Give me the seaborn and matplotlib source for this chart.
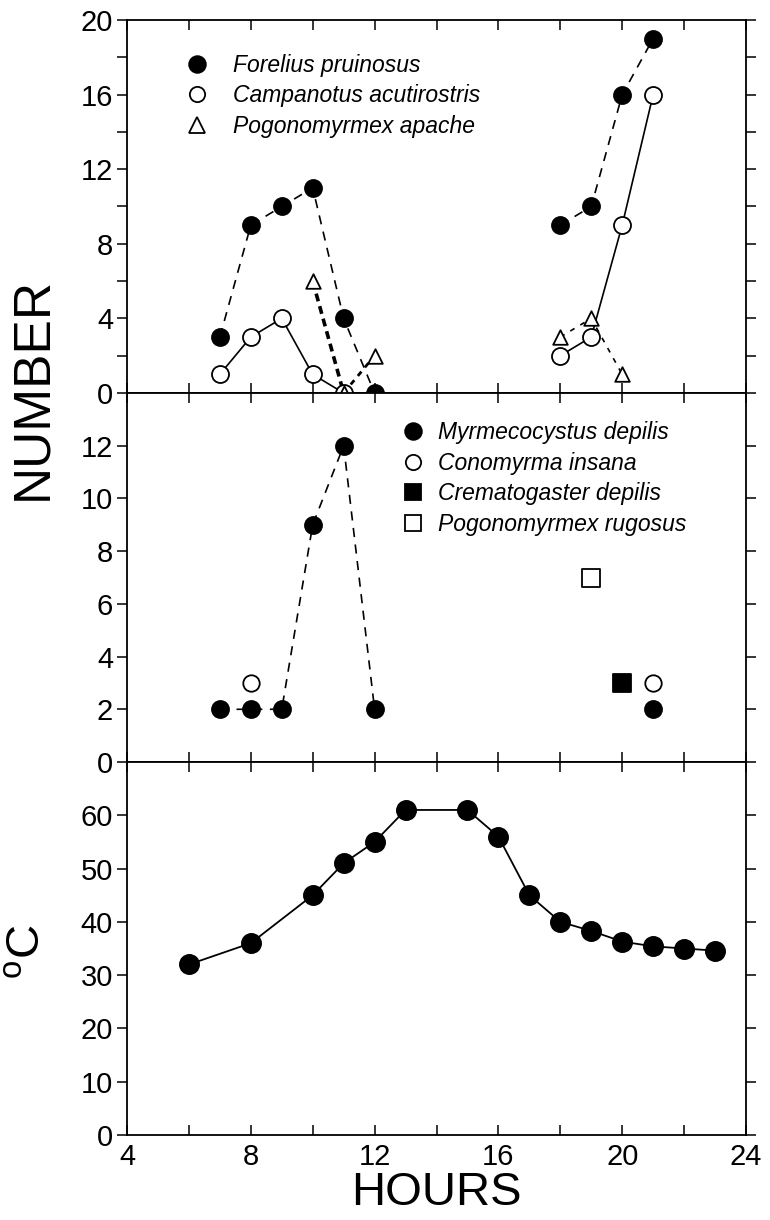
import matplotlib
matplotlib.use("Agg")
import matplotlib.pyplot as plt
import numpy as np
import pandas as pd
import seaborn as sns
from matplotlib.lines import Line2D
from matplotlib.ticker import MultipleLocator, FixedLocator

# ---------------- data ----------------
# Top panel (NUMBER)
forelius_am_h = [7, 8, 9, 10, 11, 12]
forelius_am = [3, 9, 10, 11, 4, 0]
forelius_pm_h = [18, 19, 20, 21]
forelius_pm = [9, 10, 16, 19]

campanotus_am_h = [7, 8, 9, 10, 11]
campanotus_am = [1, 3, 4, 1, 0]
campanotus_pm_h = [18, 19, 20, 21]
campanotus_pm = [2, 3, 9, 16]

apache_am_h = [10, 11, 12]
apache_am = [6, 0, 2]
apache_pm_h = [18, 19, 20]
apache_pm = [3, 4, 1]

# Middle panel (NUMBER)
myrm_am_h = [7, 8, 9, 10, 11, 12]
myrm_am = [2, 2, 2, 9, 12, 2]
myrm_pm_h = [21]
myrm_pm = [2]
conomyrma_h = [8, 21]
conomyrma = [3, 3]
cremato_h = [20]
cremato = [3]
rugosus_h = [19]
rugosus = [7]

# Bottom panel (temperature)
temp_h = [6, 8, 10, 11, 12, 13, 15, 16, 17, 18, 19, 20, 21, 22, 23]
temp_c = [32, 36, 45, 51, 55, 61, 61, 56, 45, 40, 38.3, 36.3, 35.4, 35, 34.6]

top_labels = ["Forelius pruinosus", "Campanotus acutirostris", "Pogonomyrmex apache"]
mid_labels = ["Myrmecocystus depilis", "Conomyrma insana", "Crematogaster depilis",
              "Pogonomyrmex rugosus"]
top_yticks = [0, 4, 8, 12, 16, 20]
mid_yticks = [0, 2, 4, 6, 8, 10, 12]
bot_yticks = [0, 10, 20, 30, 40, 50, 60]
x_ticks = [4, 8, 12, 16, 20, 24]

# ---------------- style ----------------
sns.set_theme(style="ticks", rc={
    "axes.edgecolor": "black", "xtick.color": "black", "ytick.color": "black",
    "text.color": "black", "axes.labelcolor": "black", "axes.linewidth": 1.3,
})
plt.rcParams['font.family'] = ['Liberation Sans', 'DejaVu Sans']
plt.rcParams['mathtext.fontset'] = 'custom'
plt.rcParams['mathtext.rm'] = 'Liberation Sans'

FW, FH = 770, 1220
fig = plt.figure(figsize=(FW / 100, FH / 100), dpi=100)
L, R = 127, 746


def rect(top_px, bot_px):
    return [L / FW, 1 - bot_px / FH, (R - L) / FW, (bot_px - top_px) / FH]


ax1 = fig.add_axes(rect(20, 393))
ax2 = fig.add_axes(rect(393, 762), sharex=ax1)
ax3 = fig.add_axes(rect(762, 1135), sharex=ax1)


def line(ax, x, y, lw=1.2, ls='-'):
    df = pd.DataFrame({"h": x, "v": y})
    sns.lineplot(data=df, x="h", y="v", ax=ax, estimator=None, sort=False,
                 color="black", linewidth=lw, linestyle=ls, zorder=2)


def pts(ax, x, y, marker='o', filled=True, s=150, lw=1.3):
    df = pd.DataFrame({"h": x, "v": y})
    sns.scatterplot(data=df, x="h", y="v", ax=ax, marker=marker, s=s,
                    color="black" if filled else "white", edgecolor="black",
                    linewidth=lw, zorder=3)


dash = (0, (5.5, 4.5))
# top panel
line(ax1, forelius_am_h, forelius_am, ls=dash)
line(ax1, forelius_pm_h, forelius_pm, ls=dash)
line(ax1, campanotus_am_h, campanotus_am)
line(ax1, campanotus_pm_h, campanotus_pm)
line(ax1, apache_am_h[:2], apache_am[:2], lw=2.6, ls=(0, (2.2, 1.4)))
line(ax1, apache_am_h[1:], apache_am[1:], lw=2.0, ls=(0, (2.0, 2.0)))
line(ax1, apache_pm_h, apache_pm, lw=1.2, ls=(0, (3, 4)))
pts(ax1, forelius_am_h, forelius_am)
pts(ax1, forelius_pm_h, forelius_pm)
pts(ax1, campanotus_am_h, campanotus_am, filled=False)
pts(ax1, campanotus_pm_h, campanotus_pm, filled=False)
pts(ax1, apache_am_h, apache_am, marker='^', filled=False, s=110)
pts(ax1, apache_pm_h, apache_pm, marker='^', filled=False, s=110)

# middle panel
line(ax2, myrm_am_h, myrm_am, ls=dash)
pts(ax2, myrm_am_h, myrm_am)
pts(ax2, myrm_pm_h, myrm_pm)
pts(ax2, conomyrma_h, conomyrma, filled=False, s=140)
pts(ax2, cremato_h, cremato, marker='s', s=150)
pts(ax2, rugosus_h, rugosus, marker='s', filled=False, s=150)

# bottom panel
line(ax3, temp_h, temp_c, lw=1.3)
pts(ax3, temp_h, temp_c, s=190)

# ---------------- axes ----------------
ax1.set_xlim(4, 24)
ax1.set_ylim(0, 20)
ax2.set_ylim(0, 14)
ax3.set_ylim(0, 70)
ax1.yaxis.set_major_locator(FixedLocator(top_yticks))
ax1.yaxis.set_minor_locator(MultipleLocator(2))
ax2.yaxis.set_major_locator(FixedLocator(mid_yticks))
ax3.yaxis.set_major_locator(FixedLocator(bot_yticks))
ax3.xaxis.set_major_locator(FixedLocator(x_ticks))
ax3.xaxis.set_minor_locator(MultipleLocator(2))

for ax in (ax1, ax2, ax3):
    for sp in ax.spines.values():
        sp.set_visible(True)
        sp.set_linewidth(1.3)
    ax.set_xlabel("")
    ax.set_ylabel("")
    ax.tick_params(axis='x', which='both', direction='in', top=True, bottom=True,
                   length=7, width=1.1, labelbottom=False, labelsize=21, pad=6)
    ax.tick_params(axis='y', which='both', direction='out', left=True, right=True,
                   length=7, width=1.1, labelsize=21, pad=3)
ax3.tick_params(axis='x', labelbottom=True)
ax3.set_xlabel("HOURS", fontsize=34, labelpad=0)

# legends
lkw = dict(mec='black', mew=1.3, ls='none')
h_top = [Line2D([], [], marker='o', mfc='black', ms=12, **lkw),
         Line2D([], [], marker='o', mfc='white', ms=11, **lkw),
         Line2D([], [], marker='^', mfc='white', ms=12, **lkw)]
ax1.legend(h_top, top_labels, loc='upper left', bbox_to_anchor=(185.5 / FW, 1 - 54 / FH),
           bbox_transform=fig.transFigure, frameon=False, borderpad=0, borderaxespad=0,
           handlelength=1.0, handletextpad=1.07, labelspacing=0.32,
           prop={'style': 'italic', 'size': 16.5})
h_mid = [Line2D([], [], marker='o', mfc='black', ms=12, **lkw),
         Line2D([], [], marker='o', mfc='white', ms=11, **lkw),
         Line2D([], [], marker='s', mfc='black', ms=11, **lkw),
         Line2D([], [], marker='s', mfc='white', ms=11, **lkw)]
ax2.legend(h_mid, mid_labels, loc='upper left', bbox_to_anchor=(401.5 / FW, 1 - 421 / FH),
           bbox_transform=fig.transFigure, frameon=False, borderpad=0, borderaxespad=0,
           handlelength=1.0, handletextpad=0.59, labelspacing=0.33,
           prop={'style': 'italic', 'size': 16.5})

fig.text(33 / FW, 1 - 388 / FH, "NUMBER", rotation=90, fontsize=37, ha='center', va='center')
fig.text(27 / FW, 1 - 952 / FH, r"$^{\rm o}$C", rotation=90, fontsize=34, ha='center', va='center')

fig.savefig("out.png", dpi=100, facecolor='white')
